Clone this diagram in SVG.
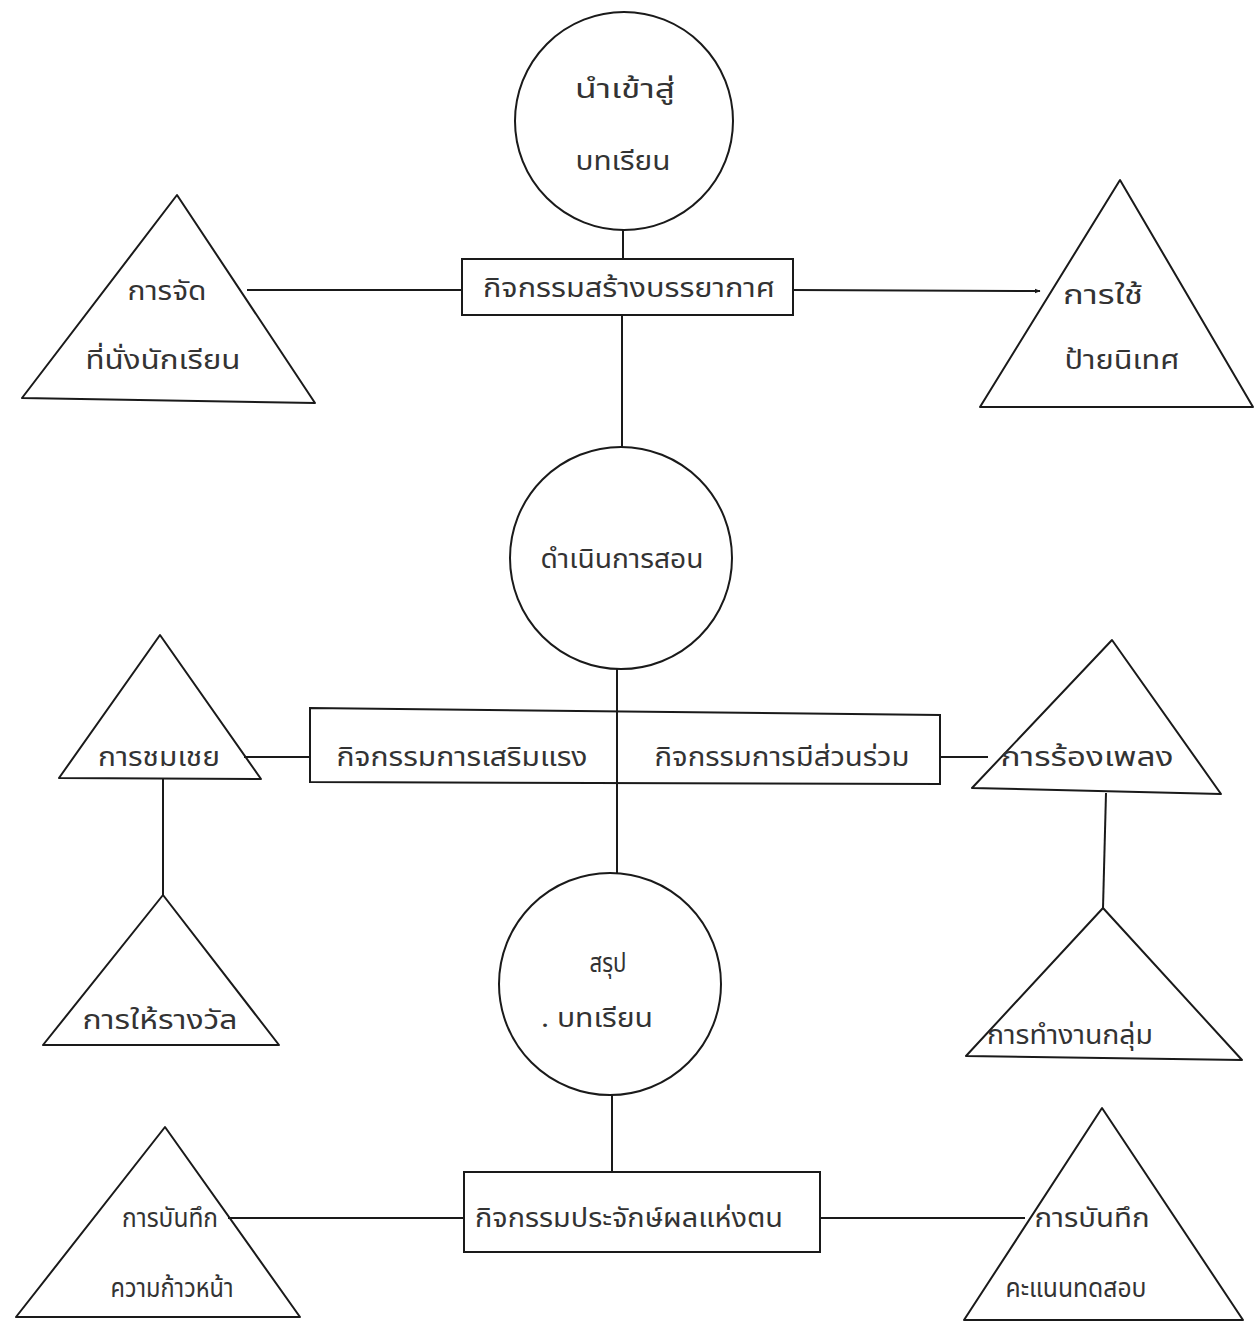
<svg xmlns="http://www.w3.org/2000/svg" width="1255" height="1327" viewBox="0 0 1255 1327">
<style>
.s{fill:none;stroke:#1a1a1a;stroke-width:2;stroke-linejoin:round}
.b{fill:#fff;stroke:#1a1a1a;stroke-width:2}
.c{stroke:#1a1a1a;stroke-width:2;fill:none}
text{font-family:"Noto Sans Thai","Loma","Garuda","Noto Sans","DejaVu Sans",sans-serif;font-size:26px;fill:#333;text-anchor:middle}
</style>
<defs>
<marker id="ah" viewBox="0 0 10 10" refX="9" refY="5" markerWidth="6" markerHeight="6" orient="auto" markerUnits="userSpaceOnUse">
<path d="M0,1 L10,5 L0,9 z" fill="#1a1a1a"/>
</marker>
</defs>
<rect width="1255" height="1327" fill="#fff"/>
<g id="connectors">
<line class="c" x1="623" y1="230" x2="623" y2="259"/>
<line class="c" x1="247" y1="290" x2="462" y2="290"/>
<line class="c" x1="793" y1="290" x2="1040" y2="291" marker-end="url(#ah)"/>
<line class="c" x1="622" y1="315" x2="622" y2="447"/>
<line class="c" x1="617" y1="669" x2="617" y2="873"/>
<line class="c" x1="244" y1="757" x2="310" y2="757"/>
<line class="c" x1="940" y1="757" x2="988" y2="757"/>
<line class="c" x1="163" y1="779" x2="163" y2="895"/>
<line class="c" x1="1106" y1="793" x2="1103" y2="908"/>
<line class="c" x1="612" y1="1095" x2="612" y2="1172"/>
<line class="c" x1="228" y1="1218" x2="464" y2="1218"/>
<line class="c" x1="820" y1="1218" x2="1025" y2="1218"/>
</g>
<g id="n-intro">
<circle class="s" cx="624" cy="121" r="109"/>
<text x="625" y="98" textLength="100" lengthAdjust="spacingAndGlyphs">นำเข้าสู่</text>
<text x="623" y="170" textLength="95" lengthAdjust="spacingAndGlyphs">บทเรียน</text>
</g>
<g id="n-atmos">
<rect class="b" x="462" y="259" width="331" height="56"/>
<text x="629" y="297" textLength="292" lengthAdjust="spacingAndGlyphs">กิจกรรมสร้างบรรยากาศ</text>
</g>
<g id="n-seat">
<polygon class="s" points="177,195 22,398 315,403"/>
<text x="167" y="300" textLength="79" lengthAdjust="spacingAndGlyphs">การจัด</text>
<text x="163" y="369" textLength="155" lengthAdjust="spacingAndGlyphs">ที่นั่งนักเรียน</text>
</g>
<g id="n-board">
<polygon class="s" points="1120,180 980,407 1253,407"/>
<text x="1103" y="304" textLength="80" lengthAdjust="spacingAndGlyphs">การใช้</text>
<text x="1122" y="369" textLength="115" lengthAdjust="spacingAndGlyphs">ป้ายนิเทศ</text>
</g>
<g id="n-teach">
<circle class="s" cx="621" cy="558" r="111"/>
<text x="622" y="568" textLength="163" lengthAdjust="spacingAndGlyphs">ดำเนินการสอน</text>
</g>
<g id="n-mid">
<polygon class="b" points="310,708 940,715 940,784 310,782"/>
<text x="462" y="766" textLength="251" lengthAdjust="spacingAndGlyphs">กิจกรรมการเสริมแรง</text>
<text x="782" y="766" textLength="255" lengthAdjust="spacingAndGlyphs">กิจกรรมการมีส่วนร่วม</text>
<line class="c" x1="617" y1="708" x2="617" y2="784"/>
</g>
<g id="n-praise">
<polygon class="s" points="160,635 59,778 261,779"/>
<text x="159" y="766" textLength="122" lengthAdjust="spacingAndGlyphs">การชมเชย</text>
</g>
<g id="n-sing">
<polygon class="s" points="1112,640 972,788 1221,794"/>
<text x="1087" y="766" textLength="173" lengthAdjust="spacingAndGlyphs">การร้องเพลง</text>
</g>
<g id="n-reward">
<polygon class="s" points="163,895 43,1045 279,1045"/>
<text x="160" y="1029" textLength="155" lengthAdjust="spacingAndGlyphs">การให้รางวัล</text>
</g>
<g id="n-group">
<polygon class="s" points="1103,908 966,1056 1242,1060"/>
<text x="1070" y="1044" textLength="166" lengthAdjust="spacingAndGlyphs">การทำงานกลุ่ม</text>
</g>
<g id="n-summary">
<circle class="s" cx="610" cy="984" r="111"/>
<text x="608" y="972" textLength="37" lengthAdjust="spacingAndGlyphs">สรุป</text>
<text x="597" y="1027" textLength="112" lengthAdjust="spacingAndGlyphs">. บทเรียน</text>
</g>
<g id="n-self">
<rect class="b" x="464" y="1172" width="356" height="80"/>
<text x="629" y="1227" textLength="308" lengthAdjust="spacingAndGlyphs">กิจกรรมประจักษ์ผลแห่งตน</text>
</g>
<g id="n-progress">
<polygon class="s" points="165,1127 16,1317 300,1317"/>
<text x="170" y="1227" textLength="96" lengthAdjust="spacingAndGlyphs">การบันทึก</text>
<text x="172" y="1297" textLength="123" lengthAdjust="spacingAndGlyphs">ความก้าวหน้า</text>
</g>
<g id="n-score">
<polygon class="s" points="1102,1108 964,1320 1243,1320"/>
<text x="1092" y="1227" textLength="115" lengthAdjust="spacingAndGlyphs">การบันทึก</text>
<text x="1076" y="1297" textLength="141" lengthAdjust="spacingAndGlyphs">คะแนนทดสอบ</text>
</g>
</svg>
